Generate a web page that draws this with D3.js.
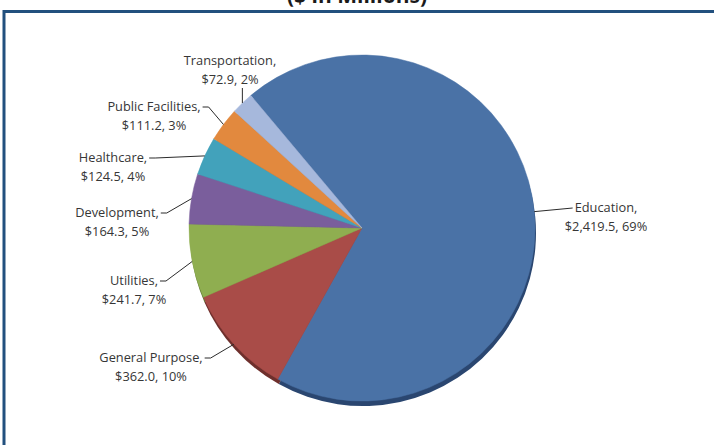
<!DOCTYPE html>
<html>
<head>
<meta charset="utf-8">
<script src="https://cdn.jsdelivr.net/npm/d3@7.9.0/dist/d3.min.js"></script>
<style>
  html, body { margin: 0; padding: 0; background: #fff; }
  svg { display: block; }
  .lbl { font-family: "Open Sans", "Noto Sans", sans-serif; font-size: 12.8px; fill: #363636; }
  .title { font-family: "Open Sans", "Noto Sans", sans-serif; font-weight: bold; font-size: 21px; fill: #1a1a1a; }
</style>
</head>
<body>
<svg id="chart" width="714" height="445"></svg>
<script>
// data ($ millions)
const categories = ['Education', 'General Purpose', 'Utilities', 'Development', 'Healthcare', 'Public Facilities', 'Transportation'];
const values = [2419.5, 362.0, 241.7, 164.3, 124.5, 111.2, 72.9];
const percents = ['69%', '10%', '7%', '5%', '4%', '3%', '2%'];
const colors = ['#4a72a6', '#a94c48', '#8fae50', '#7a5e9c', '#42a2bb', '#e2893e', '#a6b8dc'];
const rimColors = ['#2a4670', '#6e2f2c', '#5d7432', '#4e3c66', '#2a6b7c', '#965a28', '#6d7a94'];

// label placement (layout only): centre x, first baseline, side of the leader
const labelLayout = [
  { x: 606, y: 212, side: 'right' },
  { x: 151, y: 362, side: 'left' },
  { x: 134, y: 285, side: 'left' },
  { x: 117, y: 217, side: 'left' },
  { x: 113, y: 162, side: 'left' },
  { x: 154, y: 111, side: 'left' },
  { x: 230, y: 65, side: 'top' }
];

const fmt = d3.format(',.1f');
const svg = d3.select('#chart');
const cx = 362, cy = 228, r = 173;

// title (cut off at the top of the picture)
svg.append('text').attr('class', 'title')
  .attr('x', 357).attr('y', 3).attr('text-anchor', 'middle')
  .text('($ in Millions)');

// frame
svg.append('rect')
  .attr('x', 4).attr('y', 11.5).attr('width', 740).attr('height', 460)
  .attr('fill', 'none').attr('stroke', '#22507e').attr('stroke-width', 3);

const data = categories.map((c, i) => ({ name: c, value: values[i], pct: percents[i], i }));

const pie = d3.pie().sort(null).value(d => d.value)
  .startAngle(-40 * Math.PI / 180)
  .endAngle(320 * Math.PI / 180);
const arcs = pie(data);
const arc = d3.arc().innerRadius(0).outerRadius(r);

// 3d rim underneath
const g = svg.append('g').attr('transform', `translate(${cx},${cy})`);
g.append('g').attr('transform', 'translate(1,5)')
  .selectAll('path').data(arcs).join('path')
  .attr('d', arc)
  .attr('fill', d => rimColors[d.data.i]);

g.append('g').selectAll('path').data(arcs).join('path')
  .attr('d', arc)
  .attr('fill', d => colors[d.data.i])
  .attr('stroke', d => colors[d.data.i])
  .attr('stroke-width', 0.5);

// labels + leader lines
arcs.forEach(a => {
  const d = a.data;
  const lay = labelLayout[d.i];
  const t = svg.append('text').attr('class', 'lbl').attr('text-anchor', 'middle');
  const l1 = t.append('tspan').attr('x', lay.x).attr('y', lay.y).text(`${d.name},`);
  t.append('tspan').attr('x', lay.x).attr('y', lay.y + 18.5).text(`$${fmt(d.value)}, ${d.pct}`);

  const mid = (a.startAngle + a.endAngle) / 2;
  const px = cx + r * Math.sin(mid), py = cy - r * Math.cos(mid);
  const w1 = l1.node().getComputedTextLength();
  let pts;
  if (lay.side === 'left') {
    const ax = lay.x + w1 / 2 + 2, ay = lay.y - 4;
    pts = [[ax, ay], [ax + 6, ay], [px, py]];
  } else if (lay.side === 'right') {
    const ax = lay.x - w1 / 2 - 2, ay = lay.y - 4;
    pts = [[ax, ay], [px, py]];
  } else {
    pts = [[px, lay.y + 23], [px, py]];
  }
  svg.append('path')
    .attr('d', d3.line()(pts))
    .attr('fill', 'none').attr('stroke', '#2b2b2b').attr('stroke-width', 1);
});
</script>
</body>
</html>
